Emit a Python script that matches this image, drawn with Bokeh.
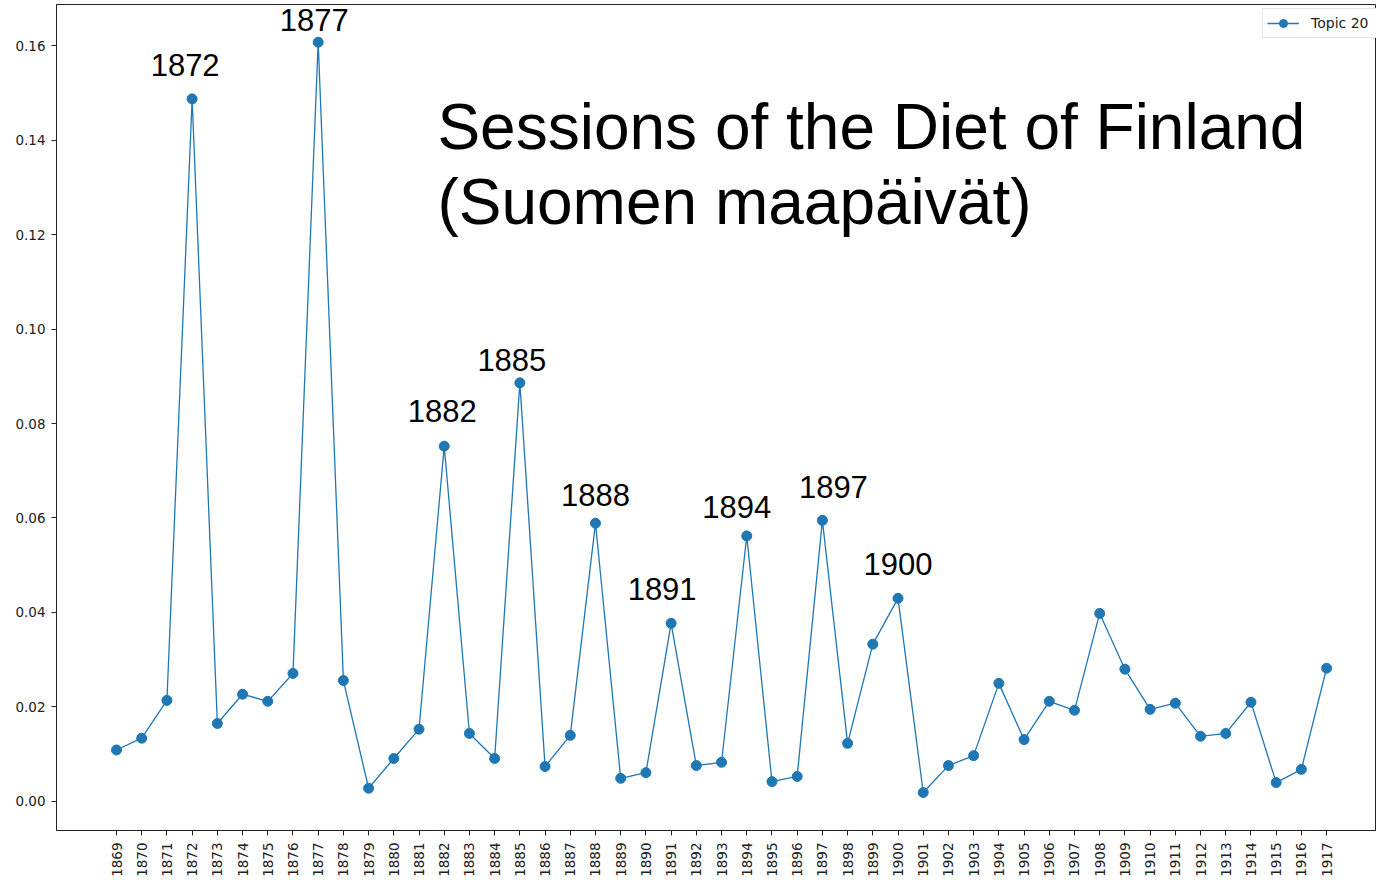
import math
from bokeh.plotting import figure
from bokeh.models import ColumnDataSource, FixedTicker, Legend, LegendItem, Range1d, NumeralTickFormatter
from bokeh.core.properties import value
from bokeh.embed import file_html
from bokeh.resources import INLINE

years = ["1869", "1870", "1871", "1872", "1873", "1874", "1875", "1876", "1877", "1878",
         "1879", "1880", "1881", "1882", "1883", "1884", "1885", "1886", "1887", "1888",
         "1889", "1890", "1891", "1892", "1893", "1894", "1895", "1896", "1897", "1898",
         "1899", "1900", "1901", "1902", "1903", "1904", "1905", "1906", "1907", "1908",
         "1909", "1910", "1911", "1912", "1913", "1914", "1915", "1916", "1917"]

topic20 = [0.0109, 0.0134, 0.0214, 0.1487, 0.0165, 0.0227, 0.0212, 0.0271, 0.1607, 0.0256,
           0.0028, 0.0091, 0.0153, 0.0752, 0.0144, 0.0091, 0.0886, 0.0074, 0.0140, 0.0589,
           0.0049, 0.0061, 0.0377, 0.0076, 0.0083, 0.0562, 0.0042, 0.0053, 0.0595, 0.0123,
           0.0333, 0.0430, 0.0019, 0.0076, 0.0097, 0.0250, 0.0131, 0.0212, 0.0193, 0.0398,
           0.0280, 0.0195, 0.0208, 0.0138, 0.0144, 0.0210, 0.0040, 0.0068, 0.0282]

y_ticks = [0.00, 0.02, 0.04, 0.06, 0.08, 0.10, 0.12, 0.14, 0.16]

peak_years = ["1872", "1877", "1882", "1885", "1888", "1891", "1894", "1897", "1900"]
peak_dx = [-7, -4, -2, -8, 0, -9, -10, 11, 0]
peak_dy = [-34, -22, -35, -23, -28, -34, -29, -33, -34]

title_lines = ["Sessions of the Diet of Finland", "(Suomen maapäivät)"]
series_name = "Topic 20"

idx = list(range(len(years)))

p = figure(width=1376, height=882,
           x_range=Range1d(-2.38, 49.98), y_range=Range1d(-0.00614, 0.16868),
           output_backend="svg", toolbar_location=None,
           min_border_left=56, min_border_right=0, min_border_top=4, min_border_bottom=52)
p.grid.visible = False
p.outline_line_color = "#222222"
p.outline_line_width = 1
p.background_fill_color = "white"
p.border_fill_color = "white"

p.xaxis.ticker = FixedTicker(ticks=idx)
p.xaxis.major_label_overrides = {i: y for i, y in zip(idx, years)}
p.xaxis.major_label_orientation = math.pi / 2
p.yaxis.ticker = FixedTicker(ticks=y_ticks)
p.yaxis.formatter = NumeralTickFormatter(format="0.00")

for ax in (p.xaxis[0], p.yaxis[0]):
    ax.axis_line_color = "#222222"
    ax.major_tick_line_color = "#222222"
    ax.minor_tick_line_color = None
    ax.major_tick_in = 0
    ax.major_tick_out = 5
    ax.major_label_text_font = "DejaVu Sans"
    ax.major_label_text_font_size = "13.5px"
    ax.major_label_text_color = "#222222"
p.xaxis.major_label_standoff = 7
p.yaxis.major_label_standoff = 6

src = ColumnDataSource(dict(x=idx, y=topic20))
ln = p.line("x", "y", source=src, line_color="#1f77b4", line_width=1.3)
pts = p.scatter("x", "y", source=src, size=10, fill_color="#1f77b4", line_color="#1f77b4")

pk_idx = [years.index(y) for y in peak_years]
ann = ColumnDataSource(dict(x=pk_idx, y=[topic20[i] for i in pk_idx], text=peak_years,
                            dx=peak_dx, dy=peak_dy))
p.text(x="x", y="y", text="text", x_offset="dx", y_offset="dy", source=ann,
       text_font=value("Liberation Sans"), text_font_size="31px",
       text_align="center", text_baseline="alphabetic", text_color="black")

p.text(x=[12.73, 12.73], y=[0.1427, 0.1268], text=title_lines,
       text_font=value("Liberation Sans"), text_font_size="64px",
       text_align="left", text_baseline="alphabetic", text_color="black")

legend = Legend(items=[LegendItem(label=series_name, renderers=[ln, pts])],
                location=(1206, 792), glyph_width=32, glyph_height=20,
                label_standoff=12, padding=4, margin=0, spacing=0,
                label_width=80,
                border_line_color="#cccccc", border_line_width=1,
                background_fill_color="white", background_fill_alpha=1,
                label_text_font="DejaVu Sans", label_text_font_size="14px",
                label_text_color="#222222")
p.add_layout(legend)

open("out.html", "w").write(file_html(p, INLINE))
